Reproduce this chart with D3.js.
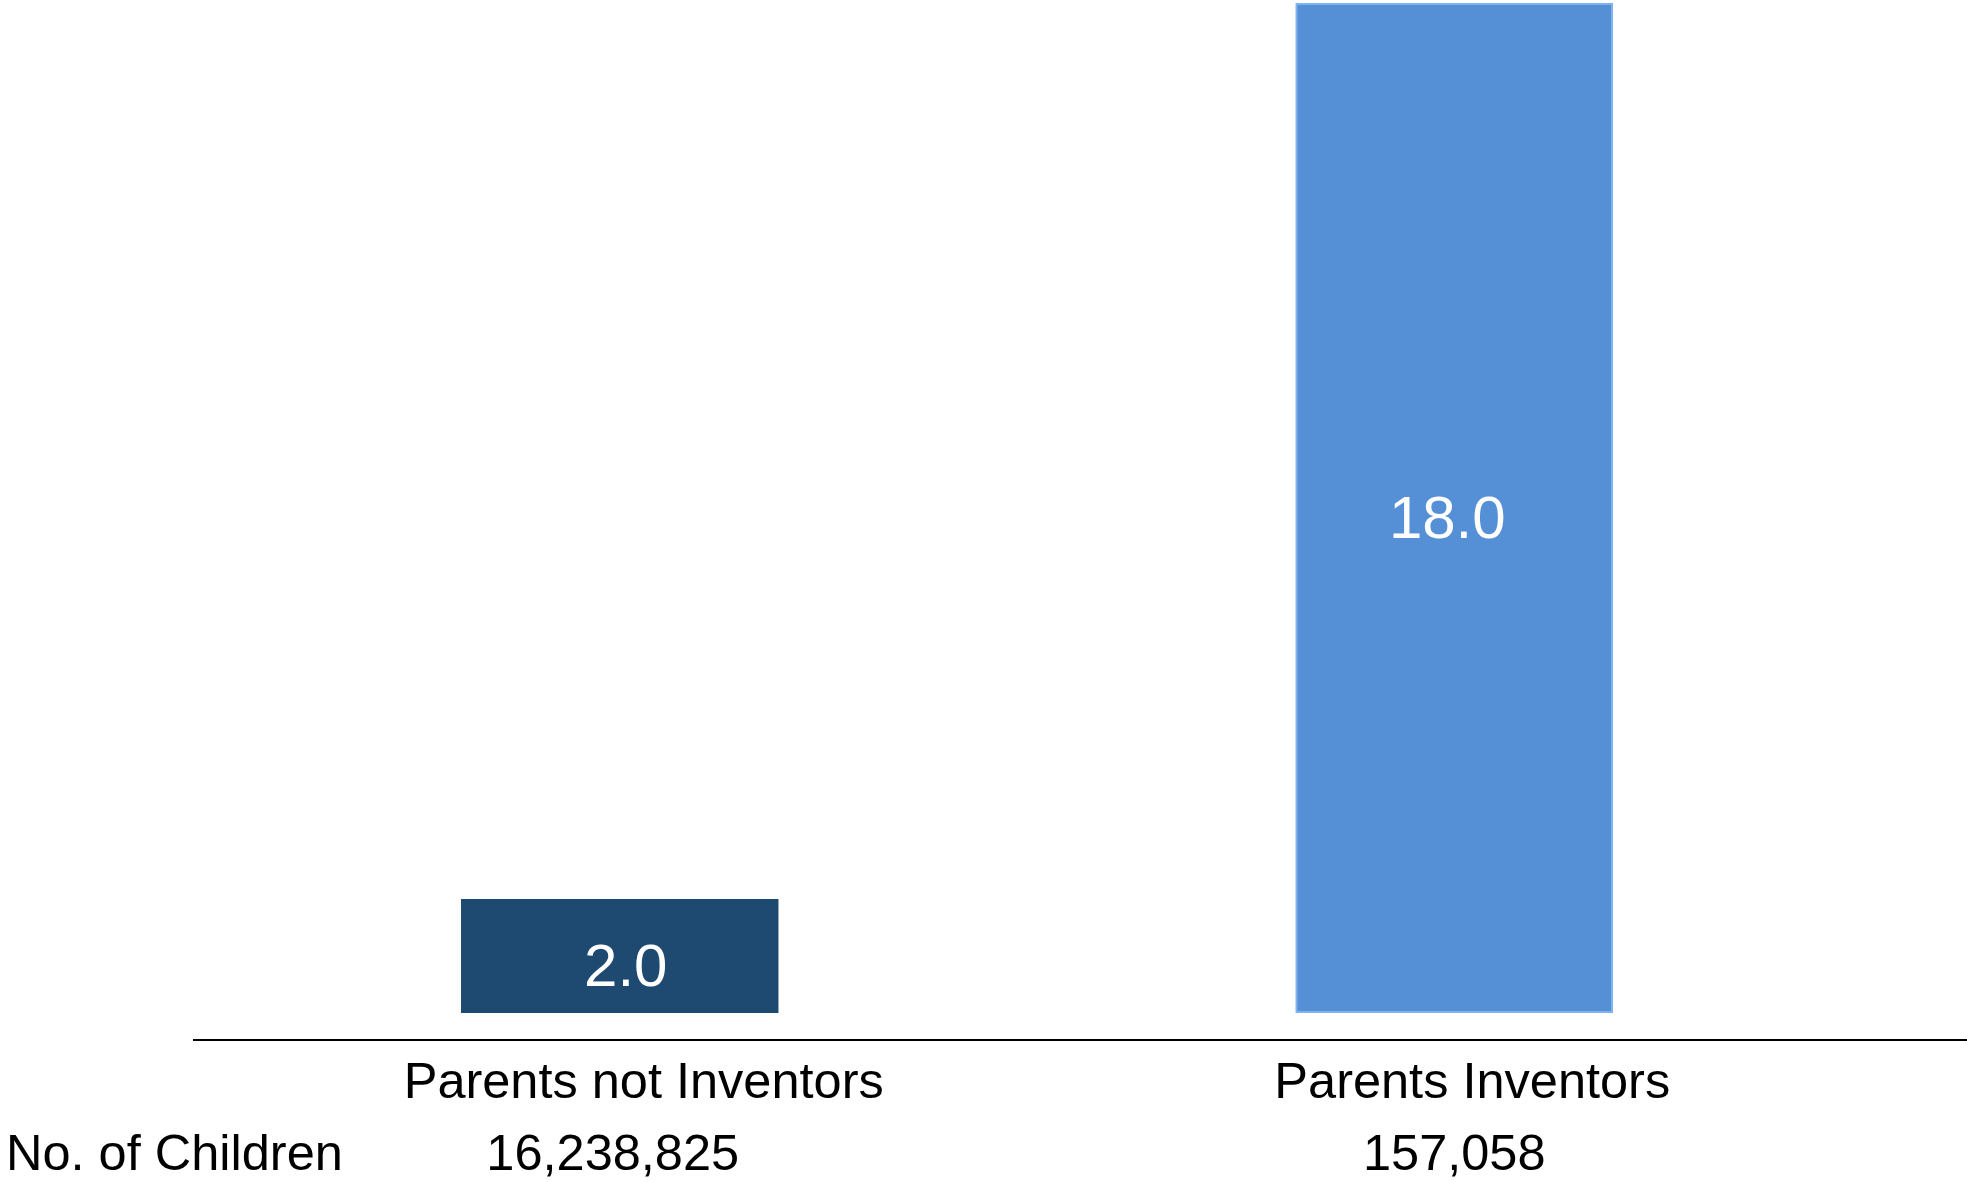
<!DOCTYPE html>
<html>
<head>
<meta charset="utf-8">
<script src="https://cdn.jsdelivr.net/npm/d3@7"></script>
<style>
  html, body { margin: 0; padding: 0; background: #fff; }
  svg { display: block; font-family: "Liberation Sans", Arial, sans-serif; }
</style>
</head>
<body>
<svg id="chart" width="1967" height="1182"></svg>
<script>
// Share of children who become inventors (per 1,000), by parent inventor status
const categories = ["Parents not Inventors", "Parents Inventors"];
const values = [2.0, 18.0];
const childCounts = ["16,238,825", "157,058"];
const rowLabel = "No. of Children";
const barFills = ["#1e4a72", "#558fd6"];
const barStrokes = ["#1e4a72", "#7db4ee"];

const svg = d3.select("#chart");

const x = d3.scaleBand()
  .domain(categories)
  .range([462, 1612])
  .paddingInner(0.622)
  .paddingOuter(0);

const y = d3.scaleLinear()
  .domain([0, 18])
  .range([1012, 4]);

// Bars
svg.selectAll("rect.bar")
  .data(values)
  .join("rect")
  .attr("class", "bar")
  .attr("x", (d, i) => x(categories[i]))
  .attr("width", x.bandwidth())
  .attr("y", d => y(d))
  .attr("height", d => y(0) - y(d))
  .attr("fill", (d, i) => barFills[i])
  .attr("stroke", (d, i) => barStrokes[i])
  .attr("stroke-width", 2);

// Value labels inside bars
const valueDx = [6, -7];
svg.selectAll("text.value")
  .data(values)
  .join("text")
  .attr("class", "value")
  .attr("x", (d, i) => x(categories[i]) + x.bandwidth() / 2 + valueDx[i])
  .attr("y", d => (y(d) + y(0)) / 2 + 30)
  .attr("text-anchor", "middle")
  .attr("font-size", 60)
  .attr("fill", "#fff")
  .text(d => d.toFixed(1));

// Baseline
svg.append("line")
  .attr("x1", 193).attr("x2", 1967)
  .attr("y1", 1040).attr("y2", 1040)
  .attr("stroke", "#000")
  .attr("stroke-width", 2);

// Category labels
const catDx = [24, 18];
svg.selectAll("text.cat")
  .data(categories)
  .join("text")
  .attr("class", "cat")
  .attr("x", (d, i) => x(d) + x.bandwidth() / 2 + catDx[i])
  .attr("y", 1098)
  .attr("text-anchor", "middle")
  .attr("font-size", 50.5)
  .attr("fill", "#000")
  .text(d => d);

// Child counts row
svg.append("text")
  .attr("x", 6)
  .attr("y", 1170)
  .attr("font-size", 50.5)
  .attr("fill", "#000")
  .text(rowLabel);

const countDx = [-7, 0];
svg.selectAll("text.count")
  .data(childCounts)
  .join("text")
  .attr("class", "count")
  .attr("x", (d, i) => x(categories[i]) + x.bandwidth() / 2 + countDx[i])
  .attr("y", 1170)
  .attr("text-anchor", "middle")
  .attr("font-size", 50.5)
  .attr("fill", "#000")
  .text(d => d);
</script>
</body>
</html>
